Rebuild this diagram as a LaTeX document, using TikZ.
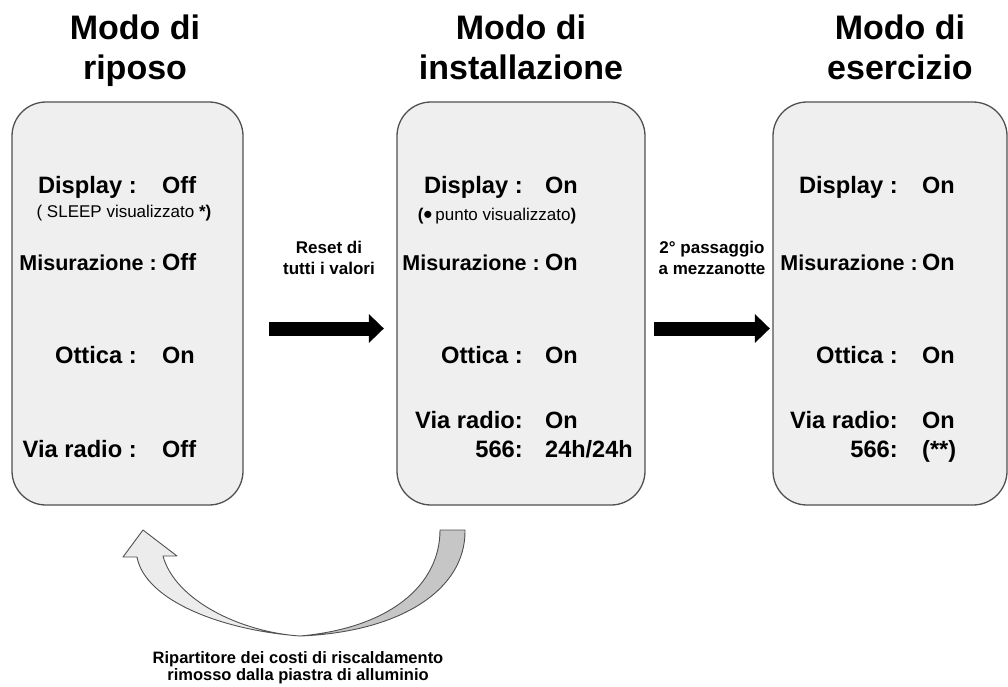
\documentclass[tikz,border=0pt]{standalone}
\usepackage{fontspec}
\setmainfont{Liberation Sans}
\usetikzlibrary{arrows.meta,positioning,calc}
\definecolor{boxfill}{HTML}{EFEFEF}
\definecolor{boxline}{HTML}{505050}
\definecolor{bendlight}{HTML}{ECECEC}
\definecolor{benddark}{HTML}{C6C6C6}
\tikzset{
  modebox/.style ={draw=boxline, fill=boxfill, line width=1.3pt, rounded corners=34pt,
                   minimum height=403pt, inner sep=0pt},
  title/.style   ={font=\fontsize{34}{40}\selectfont\bfseries, align=center, anchor=north, inner sep=0pt},
  key/.style     ={font=\fontsize{23.7}{26}\selectfont\bfseries, anchor=base east, inner sep=0pt},
  keyn/.style    ={key, font=\fontsize{21.5}{24}\selectfont\bfseries},
  val/.style     ={font=\fontsize{23.5}{26}\selectfont\bfseries, anchor=base west, inner sep=0pt},
  note/.style    ={font=\fontsize{17}{20}\selectfont, anchor=base, inner sep=0pt},
  lbl/.style     ={font=\fontsize{17}{21}\selectfont\bfseries, align=center, anchor=north, inner sep=0pt},
  fatarrow/.style={line width=14pt, -{Triangle[length=15pt,width=28pt]}},
  returnarrow/.style={draw=boxline, line width=0.9pt, line join=round},
}

\begin{document}
\begin{tikzpicture}[x=1pt, y=-1pt]
\useasboundingbox (0,0) rectangle (1008,686);
\clip (0,0) rectangle (1008,686);

% the three modes
\node[modebox, minimum width=231pt] (rip)  at (127.5,303.5) {};
\node[modebox, minimum width=248pt] (inst) at (521,303.5) {};
\node[modebox, minimum width=234pt] (eser) at (890,303.5) {};

\node[title] (t-rip)  at (135,15) {Modo di\\riposo};
\node[title] (t-inst) at (521,15) {Modo di\\installazione};
\node[title] (t-eser) at (900,15) {Modo di\\esercizio};

% riposo
\node[key] (rip-dk) at (137,193) {Display :};      \node[val] (rip-dv) at (162,193) {Off};
\node[note] (rip-n) at (124,217) {( SLEEP visualizzato \textbf{*)}};
\node[keyn] (rip-mk) at (157,270) {Misurazione :}; \node[val] (rip-mv) at (162,270) {Off};
\node[key] (rip-ok) at (137,363) {Ottica :};       \node[val] (rip-ov) at (162,363) {On};
\node[key] (rip-rk) at (137,457) {Via radio :};    \node[val] (rip-rv) at (162,457) {Off};

% installazione
\node[key] (inst-dk) at (523,193) {Display :};     \node[val] (inst-dv) at (545,193) {On};
\node[note] (inst-n) at (497,220) {\textbf{(}\raisebox{-3.2pt}{\fontsize{26}{20}\selectfont •}\,punto visualizzato\textbf{)}};
\node[keyn] (inst-mk) at (540,270) {Misurazione :}; \node[val] (inst-mv) at (545,270) {On};
\node[key] (inst-ok) at (523,363) {Ottica :};      \node[val] (inst-ov) at (545,363) {On};
\node[key] (inst-rk) at (523,428) {Via radio:};    \node[val] (inst-rv) at (545,428) {On};
\node[key] (inst-sk) at (523,457) {566:};          \node[val] (inst-sv) at (545,457) {24h/24h};

% esercizio
\node[key] (eser-dk) at (898,193) {Display :};     \node[val] (eser-dv) at (922,193) {On};
\node[keyn] (eser-mk) at (918,270) {Misurazione :}; \node[val] (eser-mv) at (922,270) {On};
\node[key] (eser-ok) at (898,363) {Ottica :};      \node[val] (eser-ov) at (922,363) {On};
\node[key] (eser-rk) at (898,428) {Via radio:};    \node[val] (eser-rv) at (922,428) {On};
\node[key] (eser-sk) at (898,457) {566:};          \node[val] (eser-sv) at (922,457) {(**)};

% transitions
\draw[fatarrow, shorten <=25.5pt, shorten >=12.5pt] ([yshift=-25pt]rip.east) -- ([yshift=-25pt]inst.west);
\draw[fatarrow, shorten <=8.5pt, shorten >=2.5pt] ([yshift=-25pt]inst.east) -- ([yshift=-25pt]eser.west);
\node[lbl] (l-reset) at (329,241) {Reset di\\tutti i valori};
\node[lbl] (l-mezz)  at (712,241) {2° passaggio\\a mezzanotte};

% back to riposo
\filldraw[returnarrow, fill=benddark] (440,530) -- (465,530) .. controls (466,590) and (400,632) .. (300,636)
  .. controls (390,628) and (440,585) .. (440,530) -- cycle;
\filldraw[returnarrow, fill=bendlight] (300,636) .. controls (220,630) and (145,600) .. (137,557)
  -- (123,557) -- (143,530) -- (177,556) -- (163,556)
  .. controls (175,600) and (240,632) .. (300,636) -- cycle;
\node[lbl, font=\fontsize{16.5}{17.5}\selectfont\bfseries] (l-tolto) at (298,651)
  {Ripartitore dei costi di riscaldamento\\rimosso dalla piastra di alluminio};
\end{tikzpicture}
\end{document}
